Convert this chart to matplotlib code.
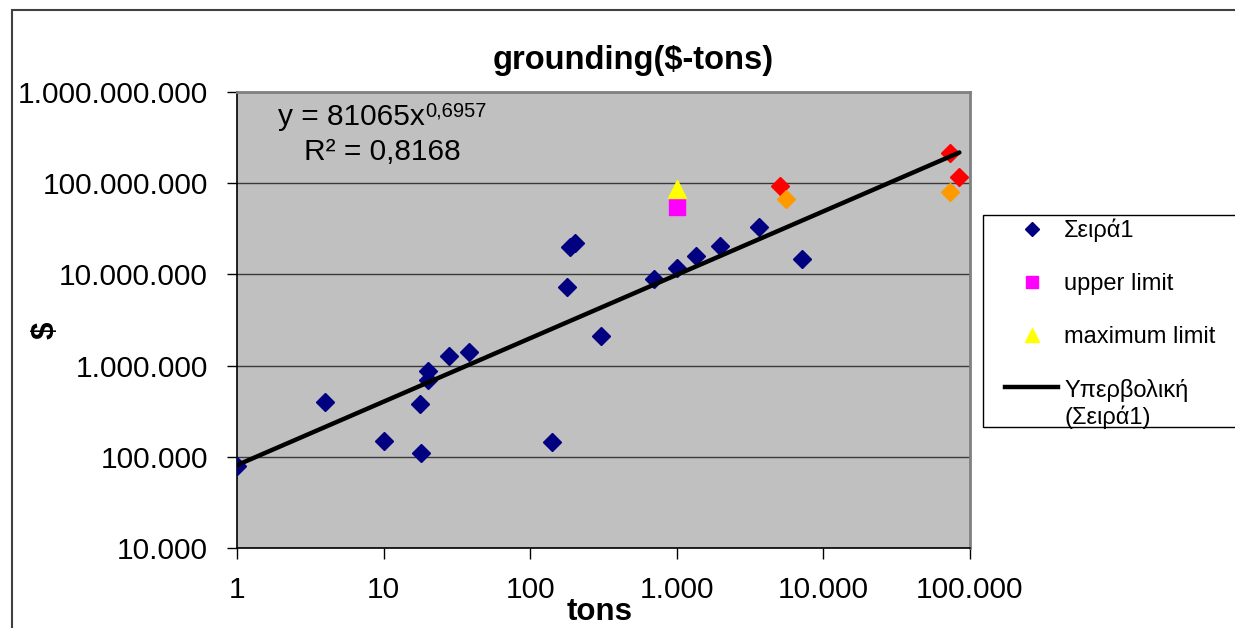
import numpy as np
import matplotlib
matplotlib.use("Agg")
import matplotlib.pyplot as plt
from matplotlib.lines import Line2D
from matplotlib.patches import Rectangle
from matplotlib.legend_handler import HandlerLine2D
from matplotlib.ticker import FixedLocator, FuncFormatter, NullLocator

plt.rcParams['font.family'] = ['Liberation Sans', 'DejaVu Sans']

# Σειρά1 (tons, $)
tons = [1, 4, 10, 17.7, 18, 20, 20, 28, 38, 140, 177, 187, 202, 303,
        700, 1000, 1350, 1970, 3640, 7100]
cost = [80000, 400000, 150000, 380000, 110000, 880000, 700000, 1270000,
        1400000, 144000, 7300000, 19900000, 22100000, 2130000,
        8800000, 11800000, 16000000, 20600000, 33400000, 14900000]

red_tons = [5060, 73100, 84600]
red_cost = [93000000, 212000000, 118000000]
orange_tons = [5530, 72700]
orange_cost = [67600000, 80000000]

upper_tons = [1000]
upper_cost = [54800000]
max_tons = [1000]
max_cost = [86000000]

# power trendline shown on the chart
trend_a = 81065
trend_b = 0.6957

x_ticks = [1, 10, 100, 1000, 10000, 100000]
y_ticks = [1e4, 1e5, 1e6, 1e7, 1e8, 1e9]

W, H = 1235, 628
fig = plt.figure(figsize=(W / 100, H / 100), dpi=100)
ax = fig.add_axes([237 / W, 1 - 548 / H, 733 / W, 456 / H])
ax.set_facecolor('#C0C0C0')

ax.set_xscale('log')
ax.set_yscale('log')
ax.set_xlim(1, 100000)
ax.set_ylim(1e4, 1e9)

def dotted(v, pos):
    return f"{int(round(v)):,}".replace(',', '.')

ax.xaxis.set_major_locator(FixedLocator(x_ticks))
ax.yaxis.set_major_locator(FixedLocator(y_ticks))
ax.xaxis.set_minor_locator(NullLocator())
ax.yaxis.set_minor_locator(NullLocator())
ax.xaxis.set_major_formatter(FuncFormatter(dotted))
ax.yaxis.set_major_formatter(FuncFormatter(dotted))
ax.tick_params(axis='x', direction='out', length=8, width=1, pad=12, labelsize=21.5)
ax.tick_params(axis='y', direction='out', length=7, width=1, pad=14, labelsize=21.5)

ax.grid(axis='y', color='#3a3a3a', lw=1)
ax.set_axisbelow(True)
for s in ['left', 'bottom']:
    ax.spines[s].set_color('black')
    ax.spines[s].set_linewidth(1.2)
for s in ['top', 'right']:
    ax.spines[s].set_color('#808080')
    ax.spines[s].set_linewidth(2)

ax.plot(tons, cost, ls='none', marker='D', ms=9.5, color='#000080', zorder=3)
ax.plot(red_tons, red_cost, ls='none', marker='D', ms=9.5, color='#FF0000', zorder=3)
ax.plot(orange_tons, orange_cost, ls='none', marker='D', ms=9.5, color='#FF9900', zorder=3)
ax.plot(upper_tons, upper_cost, ls='none', marker='s', ms=11, color='#FF00FF', zorder=3)
ax.plot(max_tons, max_cost, ls='none', marker='^', ms=12.5, color='#FFFF00', zorder=3)

all_tons = tons + red_tons + orange_tons
xs = np.logspace(0, np.log10(max(all_tons)), 100)
ax.plot(xs, trend_a * xs ** trend_b, color='black', lw=3.2, zorder=4,
        solid_capstyle='round')

# trendline label
ax.text(0.2565, 0.9276, 'y = 81065x', transform=ax.transAxes, ha='right',
        va='baseline', fontsize=21.5)
ax.text(0.2565, 0.9452, '0,6957', transform=ax.transAxes, ha='left',
        va='baseline', fontsize=14.5)
ax.text(0.198, 0.851, 'R² = 0,8168', transform=ax.transAxes, ha='center',
        va='baseline', fontsize=21.5)

fig.text(633 / W, 1 - 60 / H, 'grounding($-tons)', ha='center', va='center',
         fontsize=23.5, fontweight='bold')
fig.text(600 / W, 1 - 612 / H, 'tons', ha='center', va='center',
         fontsize=22.5, fontweight='bold')
fig.text(46 / W, 1 - 330 / H, '$', ha='center', va='center', rotation=90,
         fontsize=22.5, fontweight='bold')

# chart border
fig.patches.append(Rectangle((12 / W, -0.1), 1.2, 1 - 10 / H + 0.1,
                             transform=fig.transFigure, fill=False,
                             edgecolor='#404040', lw=1.5))

# legend
class TopLineHandler(HandlerLine2D):
    # put the trendline sample next to the first line of a two-line label
    def create_artists(self, legend, orig_handle, xdescent, ydescent,
                       width, height, fontsize, trans):
        return super().create_artists(legend, orig_handle, xdescent,
                                      ydescent - 1.4 * fontsize, width,
                                      height, fontsize, trans)

fig.patches.append(Rectangle((983 / W, 1 - 427 / H), 0.5, 212 / H,
                             transform=fig.transFigure, facecolor='white',
                             edgecolor='black', lw=1, zorder=1))
trend_handle = Line2D([], [], color='black', lw=3.2)
handles = [
    Line2D([], [], ls='none', marker='D', ms=7.5, color='#000080'),
    Line2D([], [], ls='none', marker='s', ms=9, color='#FF00FF'),
    Line2D([], [], ls='none', marker='^', ms=10, color='#FFFF00'),
    trend_handle,
]
labels = ['Σειρά1', 'upper limit', 'maximum limit', 'Υπερβολική\n(Σειρά1)']
fig.legend(handles, labels, loc='upper left',
           bbox_to_anchor=(1005 / W, 1 - 219 / H), frameon=False,
           fontsize=17, borderpad=0, borderaxespad=0, handlelength=2.25,
           handletextpad=0.25, labelspacing=1.3,
           handler_map={trend_handle: TopLineHandler()})

fig.savefig('out.png', dpi=100)
